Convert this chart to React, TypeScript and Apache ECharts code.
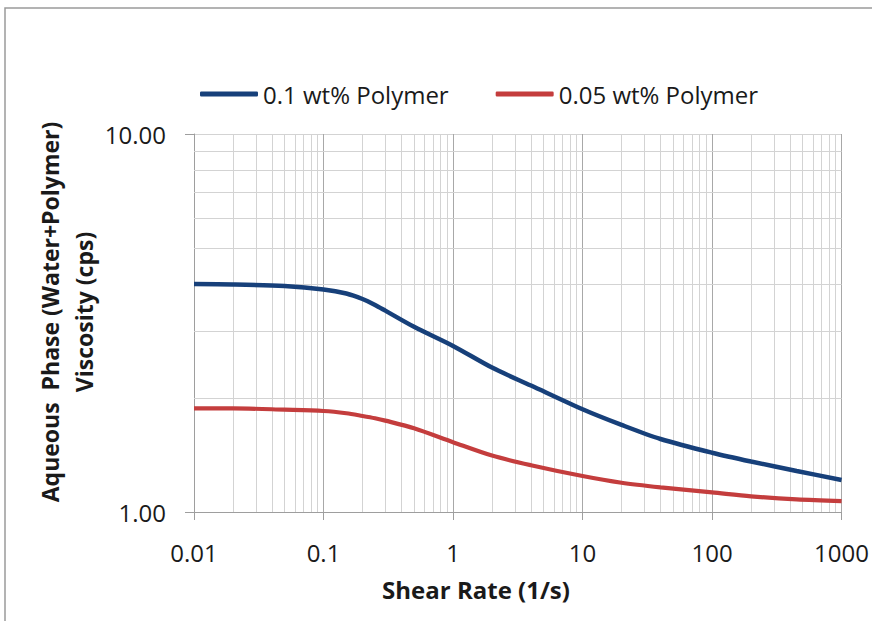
import React, { useEffect, useRef } from "react";
import * as echarts from "echarts";

const shearRate = [0.01, 0.02, 0.05, 0.1, 0.15, 0.2, 0.25, 0.3, 0.5, 1, 2, 4, 10, 20, 40, 100, 200, 450, 1000];
const visc01 = [4.01, 4.0, 3.96, 3.88, 3.785, 3.66, 3.53, 3.41, 3.09, 2.75, 2.41, 2.16, 1.87, 1.7, 1.56, 1.435, 1.36, 1.284, 1.215];
const visc005 = [1.88, 1.88, 1.865, 1.85, 1.825, 1.795, 1.77, 1.745, 1.665, 1.53, 1.41, 1.33, 1.245, 1.195, 1.162, 1.127, 1.1, 1.08, 1.069];
const seriesNames = ["0.1 wt% Polymer", "0.05 wt% Polymer"];
const xDecades = [0.01, 0.1, 1, 10, 100];
const minorMultipliers = [2, 3, 4, 5, 6, 7, 8, 9];
const yMinor = [2, 3, 4, 5, 6, 7, 8, 9];

const FONT = '"Open Sans", "Noto Sans", sans-serif';

export default function App() {
  const ref = useRef<HTMLDivElement>(null);
  useEffect(() => {
    const chart = echarts.init(ref.current!, null, { renderer: "svg" });
    const xMinor: number[] = [];
    xDecades.forEach((d) => minorMultipliers.forEach((m) => xMinor.push(Number((d * m).toPrecision(3)))));
    const gridLine = { color: "#d3d3d3", width: 1, type: "solid" as const };
    const option: any = {
      animation: false,
      backgroundColor: "#ffffff",
      grid: { left: 194, right: 29, top: 134, bottom: 109, containLabel: false },
      legend: {
        data: seriesNames,
        left: 200,
        top: 82,
        padding: 0,
        icon: "roundRect",
        itemWidth: 58,
        itemHeight: 5,
        itemGap: 47,
        textStyle: { fontFamily: FONT, fontSize: 24, color: "#1a1a1a" },
      },
      xAxis: {
        type: "log",
        logBase: 10,
        min: 0.01,
        max: 1000,
        axisLine: { show: true, lineStyle: { color: "#9e9e9e", width: 1 } },
        axisTick: { show: true, length: 8, lineStyle: { color: "#9e9e9e" } },
        axisLabel: {
          margin: 28,
          fontFamily: FONT,
          fontSize: 24,
          color: "#1a1a1a",
          formatter: (v: number) => String(Number(v.toPrecision(3))),
        },
        splitLine: { show: true, lineStyle: { color: "#a8a8a8", width: 1 } },
      },
      yAxis: {
        type: "log",
        logBase: 10,
        min: 1,
        max: 10,
        axisLine: { show: true, lineStyle: { color: "#9e9e9e", width: 1 } },
        axisTick: { show: true, length: 9, lineStyle: { color: "#9e9e9e" } },
        axisLabel: {
          margin: 28,
          fontFamily: FONT,
          fontSize: 24,
          color: "#1a1a1a",
          formatter: (v: number) => Number(v).toFixed(2),
        },
        splitLine: { show: true, lineStyle: { color: "#d3d3d3", width: 1 } },
      },
      series: [
        {
          name: "__grid",
          type: "line",
          data: [[0.01, 1], [1000, 1]],
          showSymbol: false,
          silent: true,
          lineStyle: { opacity: 0, width: 0 },
          z: 0,
          markLine: {
            silent: true,
            symbol: "none",
            z: 1,
            label: { show: false },
            lineStyle: gridLine,
            data: [
              ...xMinor.map((v) => ({ xAxis: v })),
              ...yMinor.map((v) => ({ yAxis: v })),
            ],
          },
        },
        {
          name: seriesNames[0],
          type: "line",
          data: shearRate.map((x, i) => [x, visc01[i]]),
          smooth: 0.3,
          showSymbol: false,
          z: 5,
          itemStyle: { color: "#17407a" },
          lineStyle: { color: "#17407a", width: 4.5 },
        },
        {
          name: seriesNames[1],
          type: "line",
          data: shearRate.map((x, i) => [x, visc005[i]]),
          smooth: 0.3,
          showSymbol: false,
          z: 5,
          itemStyle: { color: "#c43d3d" },
          lineStyle: { color: "#c43d3d", width: 4.2 },
        },
      ],
      graphic: [
        {
          type: "rect",
          silent: true,
          shape: { x: 5, y: 8, width: 1000, height: 1000 },
          style: { fill: "none", stroke: "#9a9a9a", lineWidth: 1.5 },
        },
        {
          type: "text",
          x: 67,
          y: 312,
          rotation: Math.PI / 2,
          style: {
            text: "Aqueous  Phase (Water+Polymer)\nViscosity (cps)",
            font: `bold 23px ${FONT}`,
            fill: "#1a1a1a",
            textAlign: "center",
            textVerticalAlign: "middle",
            align: "center",
            verticalAlign: "middle",
            lineHeight: 34,
          },
        },
        {
          type: "text",
          x: 476,
          y: 589,
          style: {
            text: "Shear Rate (1/s)",
            font: `bold 24px ${FONT}`,
            fill: "#1a1a1a",
            textAlign: "center",
            textVerticalAlign: "middle",
            align: "center",
            verticalAlign: "middle",
          },
        },
      ],
    };
    chart.setOption(option);
    return () => chart.dispose();
  }, []);
  return (
    <div
      ref={ref}
      style={{ position: "fixed", left: 0, top: 0, width: 872, height: 621, background: "#fff" }}
    />
  );
}
